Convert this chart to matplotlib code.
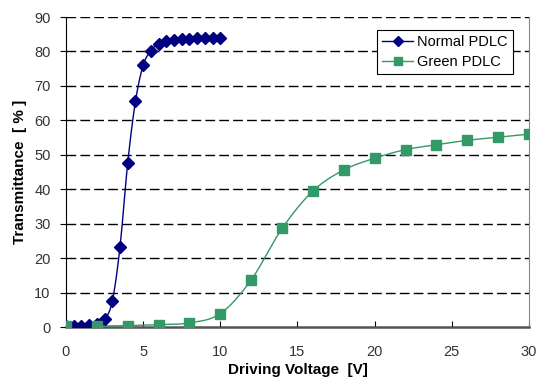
import numpy as np
import matplotlib
matplotlib.use("Agg")
import matplotlib.pyplot as plt

plt.rcParams['font.family'] = ['Liberation Sans', 'DejaVu Sans']

# data
normal_v = [0, 0.5, 1, 1.5, 2, 2.5, 3, 3.5, 4, 4.5, 5, 5.5, 6, 6.5, 7, 7.5, 8, 8.5, 9, 9.5, 10]
normal_t = [0.2, 0.2, 0.4, 0.5, 0.8, 2.2, 7.5, 23.3, 47.7, 65.5, 76.0, 80.2, 82.3, 82.9, 83.4,
            83.6, 83.7, 83.8, 83.8, 83.8, 83.8]
green_v = [0, 2, 4, 6, 8, 10, 12, 14, 16, 18, 20, 22, 24, 26, 28, 30]
green_t = [0.4, 0.3, 0.4, 0.7, 1.2, 3.9, 13.7, 28.6, 39.5, 45.6, 49.0, 51.5, 52.9, 54.2, 55.1, 56.0]

xticks = [0, 5, 10, 15, 20, 25, 30]
yticks = [0, 10, 20, 30, 40, 50, 60, 70, 80, 90]


def smooth(x, y, n=20):
    # catmull-rom style smoothing, like excel's "smoothed line"
    x = np.asarray(x, float)
    y = np.asarray(y, float)
    px = np.concatenate([[2 * x[0] - x[1]], x, [2 * x[-1] - x[-2]]])
    py = np.concatenate([[2 * y[0] - y[1]], y, [2 * y[-1] - y[-2]]])
    xs, ys = [], []
    t = np.linspace(0, 1, n, endpoint=False)
    for i in range(1, len(px) - 2):
        for arr, out in ((px, xs), (py, ys)):
            p0, p1, p2, p3 = arr[i - 1], arr[i], arr[i + 1], arr[i + 2]
            out.extend(0.5 * (2 * p1 + (-p0 + p2) * t + (2 * p0 - 5 * p1 + 4 * p2 - p3) * t ** 2
                              + (-p0 + 3 * p1 - 3 * p2 + p3) * t ** 3))
    xs.append(x[-1])
    ys.append(y[-1])
    return xs, ys


fig = plt.figure(figsize=(5.37, 3.83), dpi=100)
ax = fig.add_axes([0.1229, 0.1462, 0.8622, 0.8094])

blue = '#000080'
green = '#339966'

sx, sy = smooth(normal_v, normal_t)
ax.plot(sx, sy, color=blue, lw=1.0, zorder=3)
ax.plot(normal_v, normal_t, ls='none', marker='D', ms=6, color=blue, zorder=4)
gx, gy = smooth(green_v, green_t)
ax.plot(gx, gy, color=green, lw=1.0, zorder=3)
ax.plot(green_v, green_t, ls='none', marker='s', ms=6.5, color=green, zorder=4)

# legend proxies
ax.plot([], [], color=blue, lw=1.0, marker='D', ms=5, label='Normal PDLC')
ax.plot([], [], color=green, lw=1.0, marker='s', ms=5.5, label='Green PDLC')

ax.set_xlim(0, 30)
ax.set_ylim(0, 90)
ax.set_xticks(xticks)
ax.set_yticks(yticks)
for yv in yticks[1:]:
    ax.axhline(yv, color='black', lw=1.0, ls=(0, (7, 3)), zorder=1)

ax.spines['left'].set_color('black')
ax.spines['bottom'].set_color('#555555')
ax.spines['bottom'].set_linewidth(1.8)
ax.spines['right'].set_color('#888888')
ax.spines['top'].set_visible(False)
ax.tick_params(axis='x', direction='in', length=4, colors='#333333', labelsize=10.5, pad=13)
ax.tick_params(axis='y', direction='out', length=4, colors='#333333', labelsize=10.5, pad=7)
ax.tick_params(axis='x', color='black')
ax.tick_params(axis='y', color='black')

ax.set_xlabel('Driving Voltage  [V]', fontsize=11, fontweight='bold', labelpad=3)
ax.set_ylabel('Transmittance  [ % ]', fontsize=11, fontweight='bold', labelpad=5)

leg = ax.legend(loc='upper right', bbox_to_anchor=(0.9654, 0.958), fontsize=10.5, frameon=True,
                fancybox=False, edgecolor='black', framealpha=1, borderpad=0.35,
                handlelength=2.1, handletextpad=0.3, labelspacing=0.4, borderaxespad=0)
leg.get_frame().set_linewidth(0.8)

fig.savefig('out.png', dpi=100)
